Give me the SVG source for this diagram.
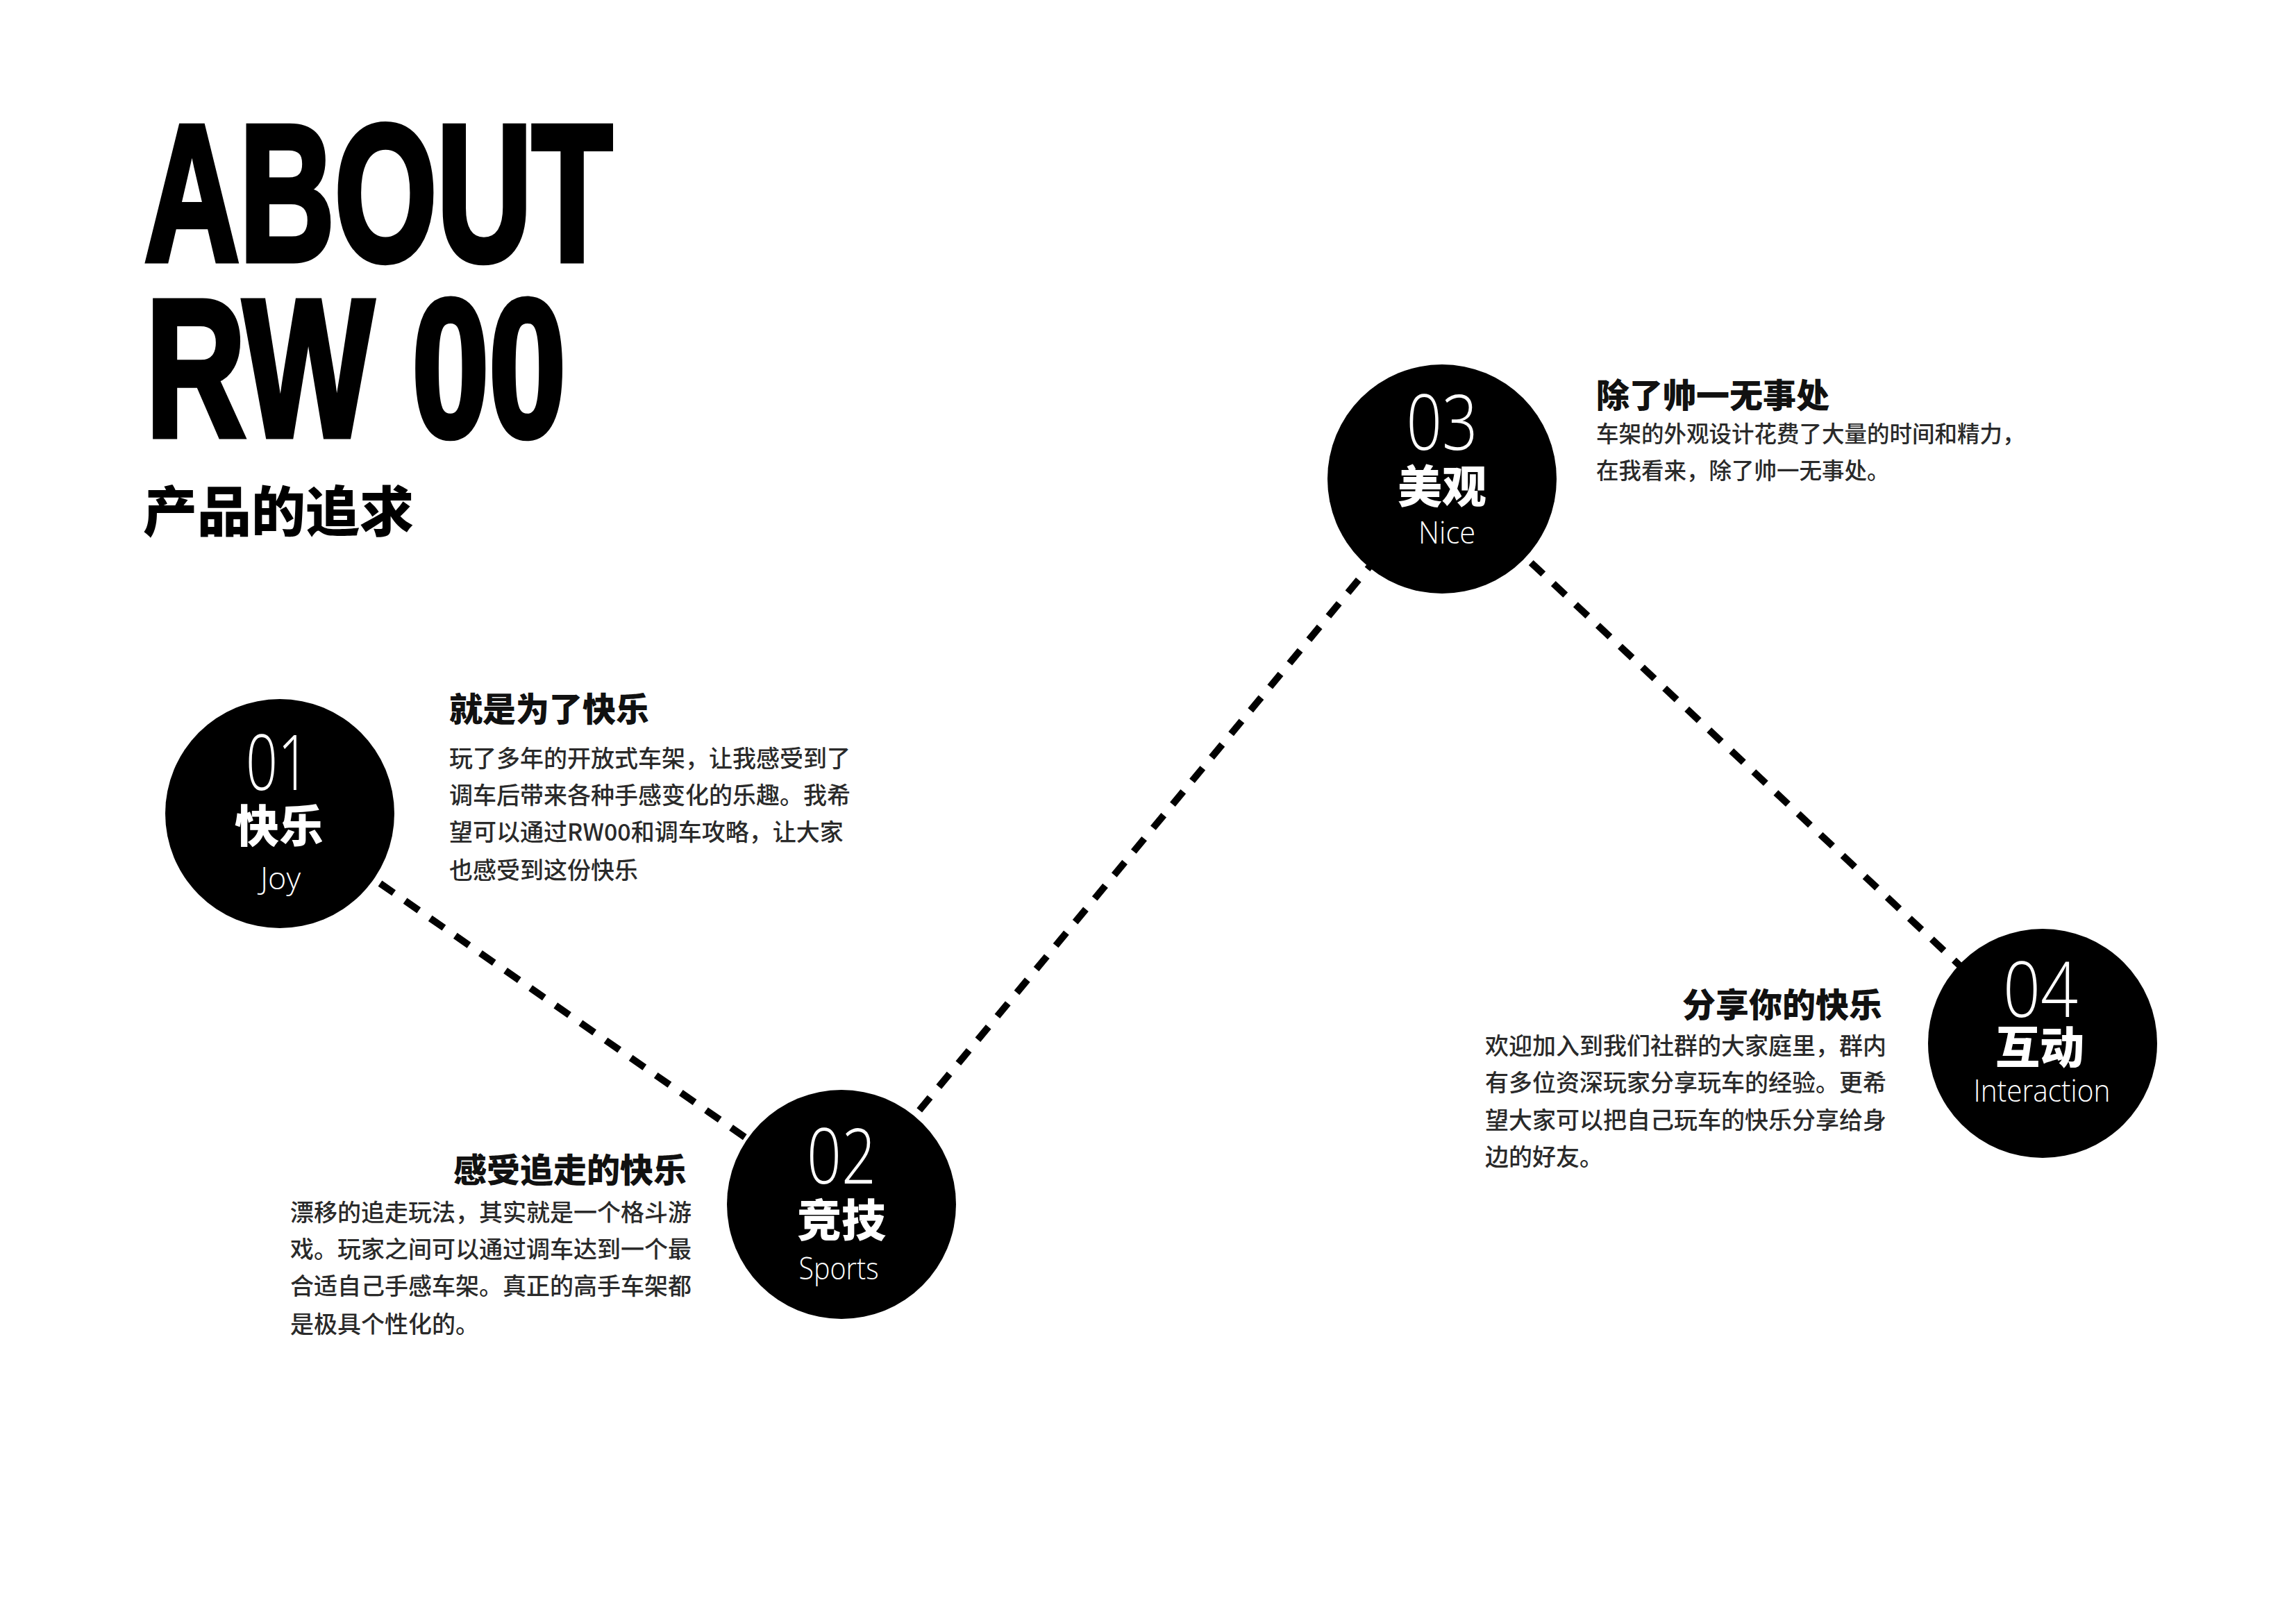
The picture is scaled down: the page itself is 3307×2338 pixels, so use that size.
<svg xmlns="http://www.w3.org/2000/svg" width="3307" height="2338" viewBox="0 0 3307 2338">
  <style>
    .hero { font-family: "Liberation Sans", Arial, sans-serif; font-weight: 700; fill: #000; stroke: #000; stroke-width: 9; stroke-linejoin: miter; }
    .sub { font-family: "Noto Sans CJK SC", sans-serif; font-weight: 900; fill: #000; }
    .dot { fill: #000; }
    .num { font-family: "Open Sans", "Noto Sans", sans-serif; font-weight: 300; fill: #fff; text-anchor: middle; }
    .cn { font-family: "Noto Sans CJK SC", sans-serif; font-weight: 900; fill: #fff; text-anchor: middle; }
    .en { font-family: "Open Sans", "Noto Sans", sans-serif; font-weight: 300; fill: #fff; text-anchor: middle; }
    .ttl { font-family: "Noto Sans CJK SC", sans-serif; font-weight: 900; fill: #111; font-size: 48px; }
    .body { font-family: "Noto Sans CJK SC", sans-serif; font-weight: 500; fill: #2a2a2a; font-size: 34px; }
    .dash { stroke: #000; stroke-width: 10; stroke-dasharray: 24 20; fill: none; }
  </style>
  <rect width="3307" height="2338" fill="#fff"/>

  <g id="title">
    <text class="hero" x="208" y="375" font-size="280" textLength="674" lengthAdjust="spacingAndGlyphs">ABOUT</text>
    <text class="hero" x="210" y="628" font-size="282" textLength="605" lengthAdjust="spacingAndGlyphs">RW 00</text>
    <text class="sub" x="206" y="766" font-size="78">产品的追求</text>
  </g>

  <g id="connectors">
    <line class="dash" x1="403" y1="1172" x2="1212" y2="1735"/>
    <line class="dash" x1="1212" y1="1735" x2="2077" y2="690"/>
    <line class="dash" x1="2077" y1="690" x2="2942" y2="1503"/>
  </g>

  <g id="node-01">
    <circle class="dot" cx="403" cy="1172" r="165"/>
    <text class="num" x="400" y="1138" font-size="110" textLength="92" lengthAdjust="spacingAndGlyphs">01</text>
    <text class="cn" x="402" y="1213" font-size="64">快乐</text>
    <text class="en" x="404" y="1281" font-size="44" textLength="58" lengthAdjust="spacingAndGlyphs">Joy</text>
  </g>

  <g id="node-02">
    <circle class="dot" cx="1212" cy="1735" r="165"/>
    <text class="num" x="1212" y="1705" font-size="110" textLength="100" lengthAdjust="spacingAndGlyphs">02</text>
    <text class="cn" x="1212" y="1781" font-size="64">竞技</text>
    <text class="en" x="1208" y="1843" font-size="44" textLength="115" lengthAdjust="spacingAndGlyphs">Sports</text>
  </g>

  <g id="node-03">
    <circle class="dot" cx="2077" cy="690" r="165"/>
    <text class="num" x="2077" y="648" font-size="110" textLength="103" lengthAdjust="spacingAndGlyphs">03</text>
    <text class="cn" x="2077" y="724" font-size="64">美观</text>
    <text class="en" x="2084" y="783" font-size="44" textLength="82" lengthAdjust="spacingAndGlyphs">Nice</text>
  </g>

  <g id="node-04">
    <circle class="dot" cx="2942" cy="1503" r="165"/>
    <text class="num" x="2939" y="1465" font-size="110" textLength="108" lengthAdjust="spacingAndGlyphs">04</text>
    <text class="cn" x="2938" y="1532" font-size="64">互动</text>
    <text class="en" x="2941" y="1587" font-size="44" textLength="197" lengthAdjust="spacingAndGlyphs">Interaction</text>
  </g>

  <g id="text-01">
    <text class="ttl" x="647" y="1039">就是为了快乐</text>
    <text class="body" x="647" y="1105">玩了多年的开放式车架，让我感受到了</text>
    <text class="body" x="647" y="1158">调车后带来各种手感变化的乐趣。我希</text>
    <text class="body" x="647" y="1211">望可以通过RW00和调车攻略，让大家</text>
    <text class="body" x="647" y="1266">也感受到这份快乐</text>
  </g>

  <g id="text-02">
    <text class="ttl" x="989" y="1703" text-anchor="end">感受追走的快乐</text>
    <text class="body" x="418" y="1759">漂移的追走玩法，其实就是一个格斗游</text>
    <text class="body" x="418" y="1812">戏。玩家之间可以通过调车达到一个最</text>
    <text class="body" x="418" y="1865">合适自己手感车架。真正的高手车架都</text>
    <text class="body" x="418" y="1920">是极具个性化的。</text>
  </g>

  <g id="text-03">
    <text class="ttl" x="2299" y="587">除了帅一无事处</text>
    <text class="body" x="2299" y="637" style="font-size:32.5px">车架的外观设计花费了大量的时间和精力，</text>
    <text class="body" x="2299" y="690" style="font-size:32.5px">在我看来，除了帅一无事处。</text>
  </g>

  <g id="text-04">
    <text class="ttl" x="2711" y="1465" text-anchor="end">分享你的快乐</text>
    <text class="body" x="2139" y="1519">欢迎加入到我们社群的大家庭里，群内</text>
    <text class="body" x="2139" y="1572">有多位资深玩家分享玩车的经验。更希</text>
    <text class="body" x="2139" y="1626">望大家可以把自己玩车的快乐分享给身</text>
    <text class="body" x="2139" y="1679">边的好友。</text>
  </g>
</svg>
